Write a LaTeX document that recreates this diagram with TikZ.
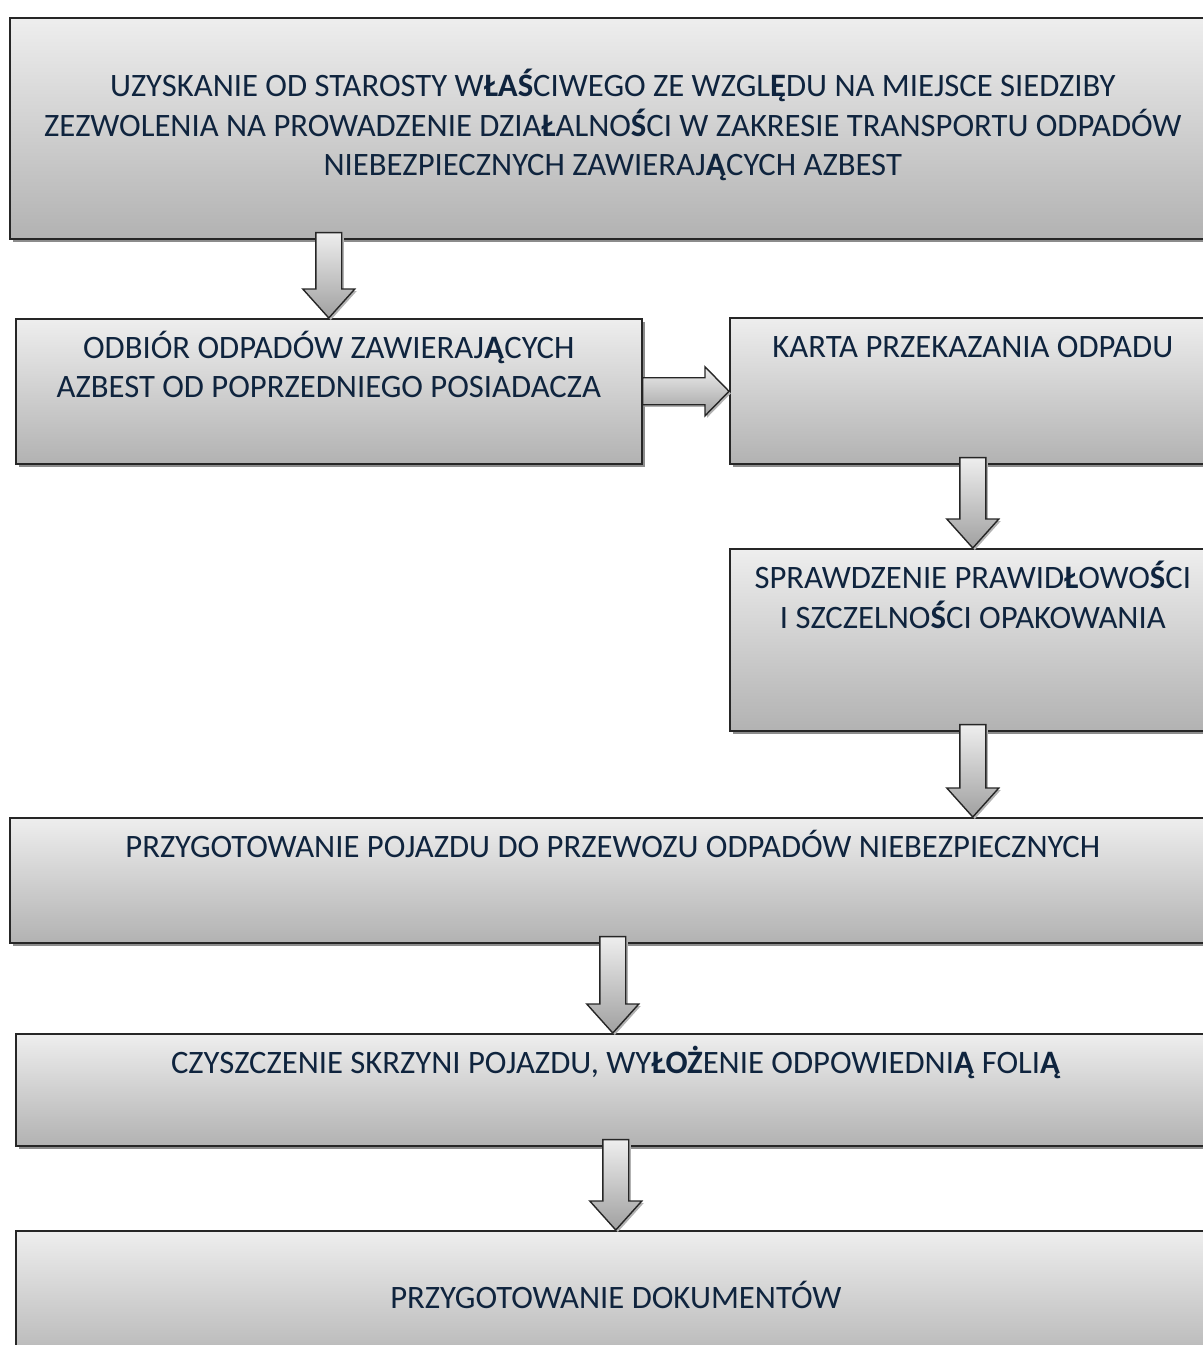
\documentclass[tikz,border=0pt]{standalone}
\usepackage{fontspec}
\setmainfont{Carlito}
\usetikzlibrary{positioning,calc,shadows}

\definecolor{boxtop}{RGB}{238,238,238}
\definecolor{boxbot}{RGB}{178,178,178}
\definecolor{navy}{HTML}{0F243E}

\begin{document}
\begin{tikzpicture}[x=0.02cm, y=-0.02cm,
	box/.style={draw=black!85, line width=0.9pt, top color=boxtop, bottom color=boxbot,
		drop shadow={shadow xshift=0.07cm, shadow yshift=-0.07cm, fill=black!45, opacity=1},
		inner sep=0pt, anchor=north west},
	boxwh/.style 2 args={minimum width=#1*0.02cm, minimum height=#2*0.02cm},
	txt/.style={text=navy, align=center, inner sep=0pt,
		font=\fontsize{18.6}{22.4}\selectfont, execute at begin node=\strut},
	barrow/.style={draw=black!85, line width=0.8pt, line join=miter,
		top color=boxtop, bottom color=boxbot!90!black,
		drop shadow={shadow xshift=0.04cm, shadow yshift=-0.04cm, fill=black!30, opacity=1}}]
	
	% \pl#text (bold polish letters)
	\def\pl#1{\textbf{#1}}
	
	% \arrowdn#from#to
	\def\arrowdn#1#2{
		\path[barrow] let \p1=(#1), \p2=(#2) in
			(\x1-0.26cm, \y1+0.14cm) -- (\x1+0.26cm, \y1+0.14cm) -- (\x1+0.26cm, \y2+0.58cm)
			-- (\x1+0.52cm, \y2+0.58cm) -- (\x1, \y2) -- (\x1-0.52cm, \y2+0.58cm)
			-- (\x1-0.26cm, \y2+0.58cm) -- cycle;
	}
	
	% \arrowrt#from#to
	\def\arrowrt#1#2{
		\path[barrow] let \p1=(#1), \p2=(#2) in
			(\x1, \y1+0.27cm) -- (\x2-0.48cm, \y1+0.27cm) -- (\x2-0.48cm, \y1+0.49cm)
			-- (\x2, \y1) -- (\x2-0.48cm, \y1-0.49cm) -- (\x2-0.48cm, \y1-0.27cm)
			-- (\x1, \y1-0.27cm) -- cycle;
	}
	
	\clip (0,0) rectangle (1203,1345);
	
	% boxes
	\node[box, boxwh={1206}{221}] (upr)   at (9,17)    {};
	\node[box, boxwh={626}{145}]  (odb)   at (15,318)  {};
	\node[box, boxwh={486}{146}]  (karta) at (729,317) {};
	\node[box, boxwh={486}{182}]  (spr)   at (729,548) {};
	\node[box, boxwh={1206}{125}] (prz)   at (9,817)   {};
	\node[box, boxwh={1200}{112}] (czy)   at (15,1033) {};
	\node[box, boxwh={1200}{140}] (dok)   at (15,1230) {};
	
	% texts
	\node[txt] (uprtxt) at (upr.center)
		{UZYSKANIE OD STAROSTY W\pl{ŁAŚ}CIWEGO ZE WZGL\pl{Ę}DU NA MIEJSCE SIEDZIBY\\
		 ZEZWOLENIA NA PROWADZENIE DZIA\pl{Ł}ALNO\pl{Ś}CI W ZAKRESIE TRANSPORTU ODPADÓW\\
		 NIEBEZPIECZNYCH ZAWIERAJ\pl{Ą}CYCH AZBEST};
	\node[txt, below=0.26cm of odb.north] (odbtxt)
		{ODBIÓR ODPADÓW ZAWIERAJ\pl{Ą}CYCH\\ AZBEST OD POPRZEDNIEGO POSIADACZA};
	\node[txt, below=0.26cm of karta.north] (kartatxt) {KARTA PRZEKAZANIA ODPADU};
	\node[txt, below=0.26cm of spr.north] (sprtxt)
		{SPRAWDZENIE PRAWID\pl{Ł}OWO\pl{Ś}CI\\ I SZCZELNO\pl{Ś}CI OPAKOWANIA};
	\node[txt, below=0.26cm of prz.north] (prztxt)
		{PRZYGOTOWANIE POJAZDU DO PRZEWOZU ODPADÓW NIEBEZPIECZNYCH};
	\node[txt, below=0.26cm of czy.north] (czytxt)
		{CZYSZCZENIE SKRZYNI POJAZDU, WY\pl{ŁOŻ}ENIE ODPOWIEDNI\pl{Ą} FOLI\pl{Ą}};
	\node[txt] (doktxt) at (dok.center) {PRZYGOTOWANIE DOKUMENTÓW};
	
	% arrows
	\arrowdn{upr.south -| odb.north}{odb.north}
	\arrowrt{odb.east}{karta.west}
	\arrowdn{karta.south}{spr.north}
	\arrowdn{spr.south}{spr.south |- prz.north}
	\arrowdn{prz.south}{czy.north}
	\arrowdn{czy.south}{dok.north}
\end{tikzpicture}
\end{document}
